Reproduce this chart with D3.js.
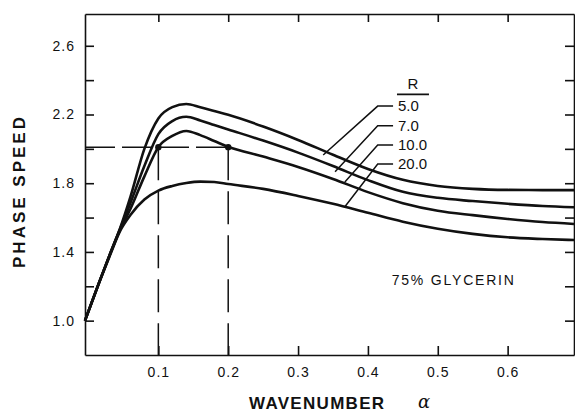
<!DOCTYPE html>
<html>
<meta charset="utf-8">
<style>
  body { margin: 0; background: #fff; }
  svg { display: block; }
  text { font-family: "Liberation Sans", Arial, sans-serif; fill: #111; }
</style>

<body>
  <svg width="575" height="413"></svg>
</body>

<script src="https://d3js.org/d3.v7.min.js"></script>

<script>

  // wavenumber samples (first one sits on the left frame)
  var alphaValues = [-0.005, 0.015, 0.03, 0.045, 0.06, 0.08, 0.1, 0.12, 0.14, 0.16, 0.18, 0.2,
                     0.25, 0.3, 0.35, 0.4, 0.45, 0.5, 0.55, 0.6, 0.65, 0.695];

  // phase speed for each R
  var speedR5  = [1.0, 1.22, 1.38, 1.535, 1.72, 2.0, 2.177, 2.243, 2.261, 2.242, 2.22, 2.198,
                  2.13, 2.052, 1.966, 1.883, 1.82, 1.784, 1.767, 1.761, 1.76, 1.76];
  var speedR7  = [1.0, 1.22, 1.38, 1.532, 1.685, 1.9, 2.086, 2.162, 2.187, 2.165, 2.139, 2.113,
                  2.048, 1.978, 1.9, 1.818, 1.75, 1.715, 1.696, 1.68, 1.667, 1.66];
  var speedR10 = [1.0, 1.22, 1.378, 1.528, 1.65, 1.84, 2.01, 2.075, 2.104, 2.08, 2.046, 2.012,
                  1.955, 1.895, 1.825, 1.748, 1.684, 1.64, 1.614, 1.592, 1.574, 1.563];
  var speedR20 = [1.0, 1.218, 1.372, 1.52, 1.615, 1.705, 1.757, 1.784, 1.801, 1.809, 1.807, 1.795,
                  1.767, 1.726, 1.68, 1.628, 1.576, 1.535, 1.505, 1.485, 1.475, 1.469];

  var legendLabels = ["5.0", "7.0", "10.0", "20.0"];
  var legendSpeed = [2.249, 2.135, 2.022, 1.912];     // label rows, in phase-speed units
  var leaderEndAlpha = [0.336, 0.353, 0.367, 0.367];  // where each leader meets its curve
  var leaderEndSpeed = [1.964, 1.867, 1.807, 1.663];

  var yTicks = [1.0, 1.2, 1.4, 1.6, 1.8, 2.0, 2.2, 2.4, 2.6];
  var yLabelled = [1.0, 1.4, 1.8, 2.2, 2.6];
  var xTicks = [0.1, 0.2, 0.3, 0.4, 0.5, 0.6];

  var markedAlpha = [0.1, 0.2];
  var markedSpeed = 2.01;

  var margin = {top: 14, right: 1, bottom: 58, left: 85},
      width = 575 - margin.left - margin.right,
      height = 413 - margin.top - margin.bottom;

  var svg = d3.select("svg");
  var g = svg.append("g").attr("transform", "translate(" + margin.left + "," + margin.top + ")");

  var xScale = d3.scaleLinear().domain([-0.005, 0.695]).range([0, width]);
  var yScale = d3.scaleLinear().domain([0.8, 2.785]).range([height, 0]);

  // axes, ticks point inward
  var fmt = d3.format(".1f");
  var leftAxis = d3.axisLeft(yScale).tickValues(yTicks).tickSizeInner(-9).tickSizeOuter(0).tickPadding(10)
      .tickFormat(function(d) { return yLabelled.some(function(v) { return Math.abs(v - d) < 1e-6; }) ? fmt(d) : ""; });
  var bottomAxis = d3.axisBottom(xScale).tickValues(xTicks).tickSizeInner(-9).tickSizeOuter(0).tickPadding(12).tickFormat(fmt);
  var topAxis = d3.axisTop(xScale).tickValues(xTicks).tickSizeInner(-8).tickSizeOuter(0).tickFormat("");
  var rightAxis = d3.axisRight(yScale).tickValues(yTicks).tickSizeInner(-9).tickSizeOuter(0).tickFormat("");

  g.append("g").attr("class", "axis").call(leftAxis);
  g.append("g").attr("class", "axis").attr("transform", "translate(0," + height + ")").call(bottomAxis);
  g.append("g").attr("class", "axis").call(topAxis);
  g.append("g").attr("class", "axis").attr("transform", "translate(" + width + ",0)").call(rightAxis);

  g.selectAll(".axis path, .axis line").attr("stroke", "#111").attr("stroke-width", 1.6);
  g.selectAll(".axis text").style("font-size", "14px").style("letter-spacing", "1px").attr("fill", "#111");

  // curves
  var series = [speedR5, speedR7, speedR10, speedR20];
  var line = d3.line()
      .x(function(d) { return xScale(d[0]); })
      .y(function(d) { return yScale(d[1]); })
      .curve(d3.curveMonotoneX);

  g.selectAll(".curve")
    .data(series)
    .enter().append("path")
      .attr("class", "curve")
      .attr("fill", "none")
      .attr("stroke", "#111")
      .attr("stroke-width", 2.6)
      .attr("d", function(s) { return line(alphaValues.map(function(a, i) { return [a, s[i]]; })); });

  // dashed guides to the two marked points
  g.append("line")
    .attr("x1", xScale.range()[0]).attr("x2", xScale(markedAlpha[1]))
    .attr("y1", yScale(markedSpeed)).attr("y2", yScale(markedSpeed))
    .attr("stroke", "#111").attr("stroke-width", 1.5).attr("stroke-dasharray", "30,7");

  g.selectAll(".guide")
    .data(markedAlpha)
    .enter().append("line")
      .attr("class", "guide")
      .attr("x1", function(d) { return xScale(d); }).attr("x2", function(d) { return xScale(d); })
      .attr("y1", yScale(markedSpeed)).attr("y2", height)
      .attr("stroke", "#111").attr("stroke-width", 1.5).attr("stroke-dasharray", "33,11");

  g.selectAll(".dot")
    .data(markedAlpha)
    .enter().append("circle")
      .attr("cx", function(d) { return xScale(d); })
      .attr("cy", yScale(markedSpeed))
      .attr("r", 3.2)
      .attr("fill", "#111");

  // R legend with leader lines
  var labelAlpha = 0.443, elbowAlpha = 0.414, stubAlpha = 0.436;

  g.append("text")
    .attr("x", xScale(0.4645)).attr("y", yScale(2.377))
    .attr("text-anchor", "middle").attr("dy", "0.35em")
    .style("font-size", "15px")
    .text("R");
  g.append("line")
    .attr("x1", xScale(0.4416)).attr("x2", xScale(0.4874))
    .attr("y1", yScale(2.317)).attr("y2", yScale(2.317))
    .attr("stroke", "#111").attr("stroke-width", 1.6);

  legendLabels.forEach(function(lab, i) {
    var yy = yScale(legendSpeed[i]);
    g.append("polyline")
      .attr("points", [[xScale(leaderEndAlpha[i]), yScale(leaderEndSpeed[i])], [xScale(elbowAlpha), yy], [xScale(stubAlpha), yy]].join(" "))
      .attr("fill", "none").attr("stroke", "#111").attr("stroke-width", 1.5);
    g.append("text")
      .attr("x", xScale(labelAlpha)).attr("y", yy).attr("dy", "0.35em")
      .style("font-size", "15px")
      .text(lab);
  });

  g.append("text")
    .attr("x", xScale(0.434)).attr("y", yScale(1.238)).attr("dy", "0.35em")
    .style("font-size", "14px").style("letter-spacing", "1.8px")
    .text("75% GLYCERIN");

  // axis titles
  svg.append("text")
    .attr("transform", "translate(19,191) rotate(-90)")
    .attr("text-anchor", "middle").attr("dy", "0.35em")
    .style("font-size", "17px").style("font-weight", "bold").style("letter-spacing", "3px")
    .text("PHASE SPEED");

  svg.append("text")
    .attr("x", 249).attr("y", 409)
    .style("font-size", "17px").style("font-weight", "bold").style("letter-spacing", "1.3px")
    .text("WAVENUMBER");
  svg.append("text")
    .attr("x", 418).attr("y", 408)
    .style("font-size", "18px").style("font-style", "italic").style("font-family", "'DejaVu Serif', serif")
    .text("α");

</script>

</html>
